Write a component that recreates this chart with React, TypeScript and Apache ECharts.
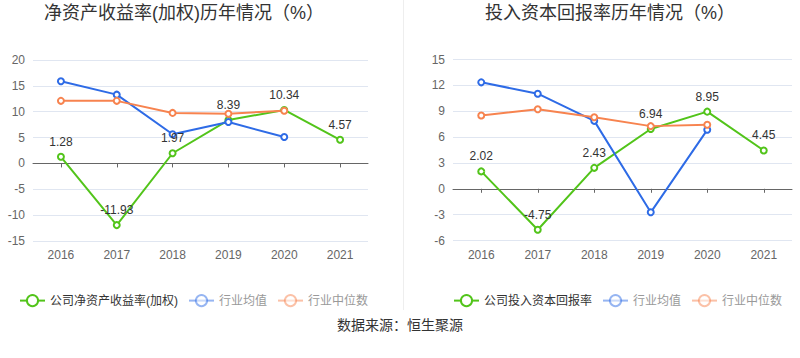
import React, { useEffect, useRef } from "react";
import * as echarts from "echarts";

const years = ["2016", "2017", "2018", "2019", "2020", "2021"];

const roeName = "公司净资产收益率(加权)";
const roeCompany = [1.28, -11.93, 1.97, 8.39, 10.34, 4.57];
const roeMean = [15.9, 13.3, 5.65, 8.0, 5.1];
const roeMedian = [12.1, 12.1, 9.77, 9.6, 10.2];

const roicName = "公司投入资本回报率";
const roicCompany = [2.02, -4.75, 2.43, 6.94, 8.95, 4.45];
const roicMean = [12.35, 11.03, 7.88, -2.73, 6.84];
const roicMedian = [8.5, 9.23, 8.3, 7.27, 7.42];

const meanName = "行业均值";
const medianName = "行业中位数";

const leftTitle = "净资产收益率(加权)历年情况（%）";
const rightTitle = "投入资本回报率历年情况（%）";
const sourceText = "数据来源：恒生聚源";

const GREEN = "#52c41a";
const BLUE = "#2e6be6";
const ORANGE = "#f7834f";
const FONT = "Arial, 'Liberation Sans', 'Noto Sans CJK SC', sans-serif";

function lineSeries(name: string, data: number[], color: string, idx: number, withLabel: boolean) {
  return {
    type: "line",
    name,
    data,
    xAxisIndex: idx,
    yAxisIndex: idx,
    symbol: "emptyCircle",
    symbolSize: 6,
    color,
    lineStyle: { width: 2, color },
    itemStyle: { color, borderWidth: 2 },
    label: withLabel
      ? { show: true, position: "top", color: "#333", fontSize: 12, fontFamily: FONT }
      : { show: false },
    emphasis: { disabled: true },
  };
}

function legendData(company: string) {
  return [
    { name: company, textStyle: { color: "#333" } },
    { name: meanName, textStyle: { color: "#999" }, itemStyle: { opacity: 0.5 }, lineStyle: { opacity: 0.5 } },
    { name: medianName, textStyle: { color: "#999" }, itemStyle: { opacity: 0.5 }, lineStyle: { opacity: 0.5 } },
  ];
}

function xAxis(idx: number) {
  return {
    type: "category",
    gridIndex: idx,
    data: years,
    boundaryGap: true,
    axisLine: { show: true, onZero: true, lineStyle: { color: "#666" } },
    axisTick: { show: true, alignWithLabel: true, length: 4, lineStyle: { color: "#666" } },
    axisLabel: { color: "#666", fontSize: 12, fontFamily: FONT, margin: 8 },
  };
}

function yAxis(idx: number, min: number, max: number, interval: number) {
  return {
    type: "value",
    gridIndex: idx,
    min,
    max,
    interval,
    axisLine: { show: false },
    axisTick: { show: false },
    axisLabel: { color: "#666", fontSize: 12, fontFamily: FONT, margin: 8 },
    splitLine: { lineStyle: { color: "#e0e6f1" } },
  };
}

export default function App() {
  const ref = useRef<HTMLDivElement>(null);
  useEffect(() => {
    if (!ref.current) return;
    const chart = echarts.init(ref.current, null, { renderer: "svg" });
    chart.setOption({
      animation: false,
      textStyle: { fontFamily: FONT },
      grid: [
        { left: 33, top: 60, width: 335, height: 181 },
        { left: 453, top: 59.5, width: 339, height: 181 },
      ],
      xAxis: [xAxis(0), xAxis(1)],
      yAxis: [yAxis(0, -15, 20, 5), yAxis(1, -6, 15, 3)],
      legend: [
        {
          left: 14,
          top: 289,
          itemWidth: 25,
          itemHeight: 14,
          itemGap: 10,
          textStyle: { fontSize: 12, fontFamily: FONT },
          selectedMode: false,
          data: legendData(roeName),
        },
        {
          left: 448,
          top: 289,
          itemWidth: 25,
          itemHeight: 14,
          itemGap: 10,
          textStyle: { fontSize: 12, fontFamily: FONT },
          selectedMode: false,
          data: legendData(roicName),
        },
      ],
      graphic: [
        {
          type: "text",
          x: 184,
          y: 13,
          style: { text: leftTitle, fill: "#333", fontSize: 18, fontFamily: FONT, align: "center", verticalAlign: "middle" },
        },
        {
          type: "text",
          x: 610,
          y: 13,
          style: { text: rightTitle, fill: "#333", fontSize: 18, fontFamily: FONT, align: "center", verticalAlign: "middle" },
        },
        {
          type: "text",
          x: 400,
          y: 325,
          style: { text: sourceText, fill: "#333", fontSize: 14, fontFamily: FONT, align: "center", verticalAlign: "middle" },
        },
        {
          type: "line",
          shape: { x1: 403.5, y1: 0, x2: 403.5, y2: 310 },
          style: { stroke: "#eeeeee", lineWidth: 1 },
        },
      ],
      series: [
        lineSeries(roeName, roeCompany, GREEN, 0, true),
        lineSeries(meanName, roeMean, BLUE, 0, false),
        lineSeries(medianName, roeMedian, ORANGE, 0, false),
        lineSeries(roicName, roicCompany, GREEN, 1, true),
        lineSeries(meanName, roicMean, BLUE, 1, false),
        lineSeries(medianName, roicMedian, ORANGE, 1, false),
      ],
    });
    return () => chart.dispose();
  }, []);
  return (
    <div
      ref={ref}
      style={{ position: "absolute", left: 0, top: 0, width: 800, height: 358, background: "#fff" }}
    />
  );
}
